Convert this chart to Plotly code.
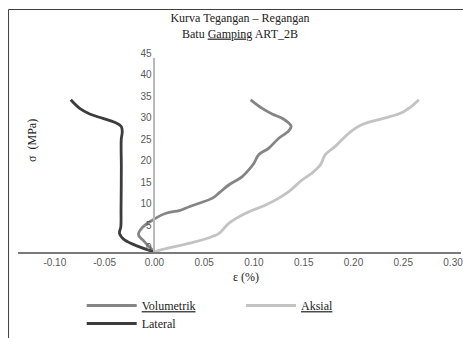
import plotly.graph_objects as go

# ---- data (strain in %, stress in MPa) ----
lateral_eps = [0, -0.015, -0.030, -0.035, -0.0337, -0.0335, -0.0333, -0.0332, -0.0333, -0.0323, -0.0333, -0.040, -0.0517, -0.065, -0.075, -0.084]
lateral_sig = [0, 1.2, 2.8, 4.3, 5.9, 10, 15, 20, 26.0, 27.9, 29.1, 30.1, 31.0, 32.0, 33.3, 35.3]

vol_eps = [0, -0.0117, -0.016, -0.012, -0.002, 0.0117, 0.025, 0.035, 0.045, 0.0583, 0.065, 0.075, 0.0883, 0.095, 0.100, 0.105, 0.115, 0.125, 0.135, 0.1373, 0.130, 0.1183, 0.1083, 0.0967]
vol_sig = [0, 2.8, 4.0, 5.7, 7.4, 9.0, 9.6, 10.5, 11.3, 12.5, 13.7, 15.6, 17.5, 19.1, 20.6, 22.6, 24.1, 26.4, 28.1, 29.2, 30.8, 32.0, 33.3, 35.3]

aks_eps = [0, 0.0083, 0.025, 0.0417, 0.0583, 0.065, 0.075, 0.0917, 0.1117, 0.125, 0.135, 0.1483, 0.1583, 0.1667, 0.1717, 0.1817, 0.1917, 0.200, 0.2083, 0.2217, 0.235, 0.2483, 0.2583, 0.2657]
aks_sig = [0, 0.6, 1.5, 2.4, 3.6, 4.3, 6.7, 9.0, 10.9, 12.5, 14.0, 16.7, 18.3, 20.2, 22.6, 24.5, 26.8, 28.4, 29.5, 30.5, 31.3, 32.3, 33.8, 35.3]

x_tickvals = [-0.10, -0.05, 0.00, 0.05, 0.10, 0.15, 0.20, 0.25, 0.30]
x_ticktext = ["-0.10", "-0.05", "0.00", "0.05", "0.10", "0.15", "0.20", "0.25", "0.30"]
y_tickvals = [0, 5, 10, 15, 20, 25, 30, 35, 40, 45]

title_text = "Kurva Tegangan – Regangan<br>Batu <u>Gamping</u> ART_2B"
x_title = "ε (%)"
y_title = "σ  (MPa)"

SERIF = "Liberation Serif, Times New Roman, serif"
SANS = "Liberation Sans, Arial, sans-serif"

W, H = 463, 338
ML, MR, MT, MB = 18, 0, 58, 86
X0, X1 = -0.137, 0.308

fig = go.Figure()
fig.add_trace(go.Scatter(x=vol_eps, y=vol_sig, mode="lines", name="<u>Volumetrik</u>",
                         line=dict(color="#858585", width=2.8, shape="spline", smoothing=1.0),
                         legend="legend"))
fig.add_trace(go.Scatter(x=aks_eps, y=aks_sig, mode="lines", name="<u>Aksial</u>",
                         line=dict(color="#c3c3c3", width=2.8, shape="spline", smoothing=1.0),
                         legend="legend2"))
fig.add_trace(go.Scatter(x=lateral_eps, y=lateral_sig, mode="lines", name="Lateral",
                         line=dict(color="#3c3c3c", width=2.8, shape="spline", smoothing=1.0),
                         legend="legend3"))

pw = W - ML - MR
ph = H - MT - MB
def px_x(p):
    return (p - ML) / pw
def px_y(p):
    return (H - MB - p) / ph

leg_common = dict(font=dict(family=SERIF, size=12, color="#222222"), bgcolor="rgba(0,0,0,0)",
                  xanchor="left", yanchor="top", itemwidth=50, orientation="v")

fig.update_layout(
    width=W, height=H,
    margin=dict(l=ML, r=MR, t=MT, b=MB),
    paper_bgcolor="white", plot_bgcolor="white",
    title=dict(text=title_text, x=240 / W, xanchor="center", xref="container",
               y=1 - 22 / H, yanchor="top", yref="container",
               font=dict(family=SERIF, size=12, color="#222222")),
    xaxis=dict(range=[X0, X1], tickvals=x_tickvals, ticktext=x_ticktext,
               showgrid=False, zeroline=False, showline=True, linecolor="#7a7a7a", linewidth=1.5,
               ticks="", ticklabeloverflow="allow",
               tickfont=dict(family=SANS, size=10, color="#595959")),
    yaxis=dict(range=[0, 45], tickvals=y_tickvals, anchor="free", position=(0 - X0) / (X1 - X0),
               showgrid=False, zeroline=False, showline=True, linecolor="#b8b8b8", linewidth=1.5,
               ticks="", ticklabelshift=-5,
               tickfont=dict(family=SANS, size=10, color="#595959")),
    legend=dict(x=px_x(82), y=px_y(291), **leg_common),
    legend2=dict(x=px_x(242), y=px_y(291), **leg_common),
    legend3=dict(x=px_x(82), y=px_y(309), **leg_common),
    annotations=[
        dict(text=x_title, xref="paper", yref="paper", x=px_x(247), y=px_y(277),
             xanchor="center", yanchor="middle", showarrow=False,
             font=dict(family=SERIF, size=12, color="#222222")),
        dict(text=y_title, xref="paper", yref="paper", x=px_x(32), y=px_y(140),
             xanchor="center", yanchor="middle", showarrow=False, textangle=-90,
             font=dict(family=SERIF, size=12, color="#222222")),
    ],
    shapes=[dict(type="rect", xref="paper", yref="paper",
                 x0=px_x(8.5), x1=px_x(475), y0=px_y(350), y1=px_y(9.5),
                 line=dict(color="#404040", width=1), fillcolor="rgba(0,0,0,0)", layer="below")],
    showlegend=True,
)

fig.write_html("out.html")
